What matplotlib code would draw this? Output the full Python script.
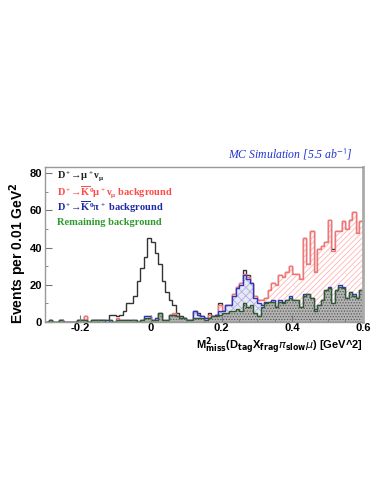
import numpy as np
import matplotlib
matplotlib.use("Agg")
import matplotlib.pyplot as plt

# M^2_miss histogram, 90 bins of 0.01 GeV^2 from -0.3 to 0.6
x_min, x_max, bin_w = -0.3, 0.6, 0.01

remaining = [0, 1, 0, 0, 1, 0, 0, 0, 0, 1, 1, 1, 0, 1, 1, 1, 1, 0, 1, 0,
             1, 1, 1, 1, 1, 1, 0, 1, 2, 2, 1, 1, 5, 1, 1, 4, 4, 3, 2, 2,
             1, 1, 2, 2, 2, 1, 2, 3, 3, 4, 5, 5, 6, 6, 7, 6, 10, 8, 9, 5,
             3, 8, 10, 11, 11, 8, 11, 10, 12, 13, 12, 12, 8, 14, 15, 13, 6, 9, 12, 17,
             18, 10, 17, 19, 18, 13, 16, 14, 13, 17]
kpi_bkg = [0, 0, 0, 0, 0, 0, 0, 0, 0, 0, 0, 0, 0, 0, 0, 0, 0, 1, 0, 0,
           0, 0, 0, 0, 0, 0, 0, 0, 1, 1, 0, 1, 0, 0, 0, 0, 0, 0, 0, 0,
           0, 0, 4, 2, 1, 1, 0, 0, 1, 2, 1, 4, 3, 8, 11, 14, 15, 15, 12, 8,
           7, 1, 1, 0, 1, 0, 1, 1, 0, 1, 0, 0, 0, 1, 0, 0, 1, 0, 0, 0,
           1, 0, 0, 1, 1, 0, 0, 1, 0, 0]
kmunu_bkg = [0, 0, 0, 0, 0, 0, 0, 0, 0, 0, 0, 2, 0, 0, 0, 0, 0, 0, 0, 0,
             1, 0, 0, 0, 0, 0, 0, 0, 0, 0, 0, 0, 0, 0, 0, 0, 1, 0, 0, 0,
             0, 0, 0, 0, 0, 0, 2, 0, 0, 3, 0, 0, 0, 1, 1, 1, 1, 1, 0, 1,
             2, 3, 2, 6, 9, 12, 13, 13, 15, 16, 14, 14, 15, 30, 16, 36, 20, 30, 29, 26,
             36, 28, 32, 29, 35, 37, 39, 44, 35, 37]
signal = [0, 0, 0, 0, 0, 0, 0, 0, 0, 0, 0, 0, 0, 0, 0, 0, 0, 0, 3, 4,
          1, 3, 5, 9, 9, 13, 22, 28, 32, 42, 42, 35, 26, 21, 15, 8, 4, 2, 1, 0,
          0, 0, 0, 1, 0, 0, 1, 0, 0, 1, 0, 0, 0, 0, 0, 0, 2, 1, 0, 0,
          0, 0, 0, 0, 0, 0, 0, 0, 0, 0, 0, 0, 0, 0, 0, 0, 0, 0, 0, 0,
          0, 1, 0, 0, 0, 0, 0, 0, 0, 0]

x_ticks = [-0.2, 0, 0.2, 0.4, 0.6]
x_tick_labels = ["-0.2", "0", "0.2", "0.4", "0.6"]
y_ticks = [0, 20, 40, 60, 80]

legend_labels = [r"D$^+\!\!\rightarrow\!\mu^+\nu_\mu$",
                 r"D$^+\!\!\rightarrow\!\overline{K}^0\mu^+\nu_\mu$ background",
                 r"D$^+\!\!\rightarrow\!\overline{K}^0\pi^+$ background",
                 "Remaining background"]
legend_colors = ["#222222", "#ff4a4a", "#1f2aa8", "#2f9a2f"]

plt.rcParams["hatch.linewidth"] = 0.6
# serif bold maths for the legend, as in the ROOT TLatex entries
plt.rcParams["mathtext.fontset"] = "custom"
plt.rcParams["mathtext.rm"] = "Liberation Serif:bold"
plt.rcParams["mathtext.it"] = "Liberation Serif:bold"
plt.rcParams["mathtext.bf"] = "Liberation Serif:bold"

edges = np.round(np.arange(x_min, x_max + bin_w / 2, bin_w), 3)

c_rem = np.array(remaining, dtype=float)
c_kpi = c_rem + np.array(kpi_bkg)
c_kmu = c_kpi + np.array(kmunu_bkg)
c_tot = c_kmu + np.array(signal)

fig = plt.figure(figsize=(3.82, 4.94), dpi=100)
ax = fig.add_axes([45 / 382, 172 / 494, 318 / 382, 154.5 / 494])

# ROOT-style stack: total first, lower components drawn over it
ax.stairs(c_tot, edges, baseline=None, color="#333333", linewidth=1.0)

ax.stairs(c_kmu, edges, baseline=0, fill=True, facecolor="white",
          edgecolor="#ffb4b4", hatch="//////", linewidth=0)
ax.stairs(c_kmu, edges, baseline=None, color="#ff7070", linewidth=1.0)

ax.stairs(c_kpi, edges, baseline=0, fill=True, facecolor="#e8e8f6",
          edgecolor="#b0b0e0", hatch="xxxx", linewidth=0)
ax.stairs(c_kpi, edges, baseline=None, color="#2a35c0", linewidth=1.0)

ax.stairs(c_rem, edges, baseline=0, fill=True, facecolor="#b4b4b4",
          edgecolor="#5a5a5a", hatch="......", linewidth=0)
ax.stairs(c_rem, edges, baseline=None, color="#2e5a2e", linewidth=1.0)

ax.set_xlim(x_min, x_max)
ax.set_ylim(0, 83)
ax.set_xticks(x_ticks, labels=x_tick_labels)
ax.set_yticks(y_ticks)
ax.set_xticks(np.arange(-0.3, 0.61, 0.05), minor=True)
ax.set_yticks(np.arange(0, 81, 10), minor=True)
ax.tick_params(which="both", direction="in", top=False, right=False,
               color="#777777", labelsize=8, pad=2)
ax.tick_params(axis="x", pad=1)
ax.tick_params(which="major", length=5)
ax.tick_params(which="minor", length=2.5)
for lab in ax.get_xticklabels() + ax.get_yticklabels():
    lab.set_fontweight("bold")
    lab.set_fontfamily("Liberation Sans")
for s in ax.spines.values():
    s.set_color("#999999")
    s.set_linewidth(1.0)
ax.spines["right"].set_linewidth(2.0)
ax.spines["right"].set_color("#aaaaaa")

# legend as plain coloured text, like the ROOT TLegend without markers
leg_y = [0.945, 0.840, 0.742, 0.645]
for lab, col, yy in zip(legend_labels, legend_colors, leg_y):
    ax.text(0.039, yy, lab, transform=ax.transAxes, color=col, fontsize=7.5,
            fontweight="bold", family="Liberation Serif",
            va="center", ha="left")

fig.text(353 / 382, 1 - 154 / 494, r"MC Simulation [5.5 ab$^{\mathsf{-1}}$]",
         color="#2233cc", fontsize=8.5, style="italic", family="Liberation Serif",
         math_fontfamily="stix", ha="right", va="center")

fig.text(18 / 382, 1 - 253 / 494, r"Events per 0.01 GeV$\mathbf{^2}$", rotation=90,
         fontsize=10, fontweight="bold", family="Liberation Sans",
         math_fontfamily="dejavusans", ha="center", va="center")

fig.text(363 / 382, 1 - 349 / 494,
         r"M$\mathbf{^2_{miss}}$(D$\mathbf{_{tag}}$X$\mathbf{_{frag}}$"
         r"$\pi\mathbf{_{slow}}\mu$) [GeV^2]",
         fontsize=8, fontweight="bold", family="Liberation Sans",
         math_fontfamily="dejavusans", ha="right", va="baseline")

fig.savefig("out.png", dpi=100)
